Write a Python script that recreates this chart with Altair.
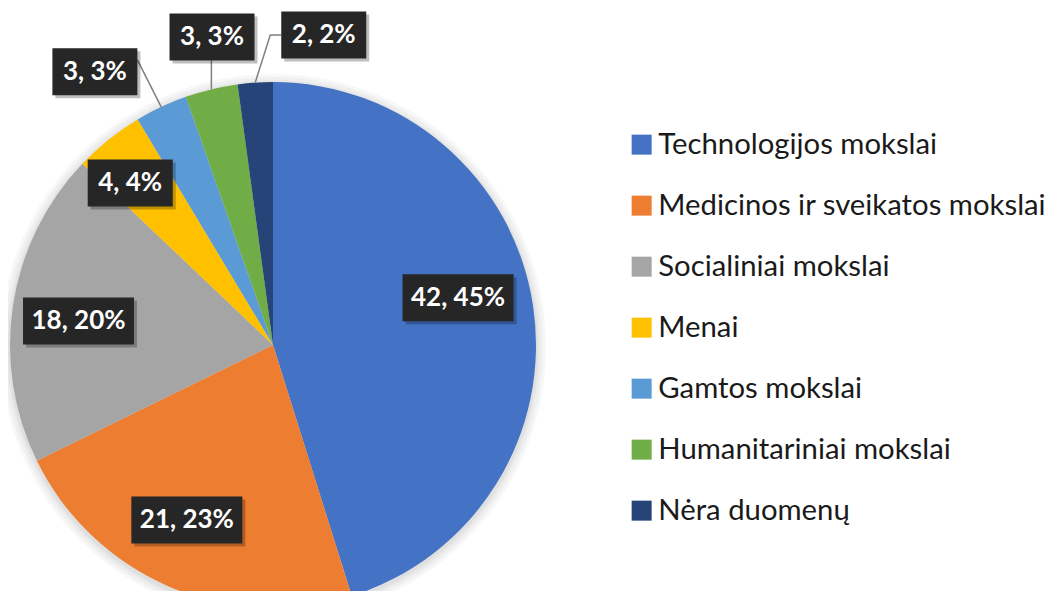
import math
import altair as alt
import pandas as pd

# ---- data ----
categories = ["Technologijos mokslai", "Medicinos ir sveikatos mokslai", "Socialiniai mokslai",
              "Menai", "Gamtos mokslai", "Humanitariniai mokslai", "Nėra duomenų"]
values = [42, 21, 18, 4, 3, 3, 2]
label_texts = ["42, 45%", "21, 23%", "18, 20%", "4, 4%", "3, 3%", "3, 3%", "2, 2%"]
colors = ["#4472C4", "#ED7D31", "#A5A5A5", "#FFC000", "#5B9BD5", "#70AD47", "#264478"]

# ---- layout (pixels) ----
W, H = 1043, 583
CX, CY = 265, 337          # pie centre inside the view
R = 263
# label placement: polar angle (deg, clockwise from 12 o'clock) and distance (fraction of R)
label_angle = [75.7, 206.2, 277.0, 318.6, 326.9, 348.8, 9.3]
label_dist = [0.726, 0.742, 0.745, 0.821, 1.24, 1.194, 1.194]
BOX_H = 47

total = sum(values)
cum = 0
mids = []
for v in values:
    mids.append((cum + v / 2) / total * 360)
    cum += v

pie_df = pd.DataFrame({"category": categories, "value": values, "idx": list(range(len(values)))})

rows = []
for i, t in enumerate(label_texts):
    a = math.radians(label_angle[i])
    d = label_dist[i] * R
    x, y = d * math.sin(a), d * math.cos(a)
    w = 13 * len(t) + 20
    rows.append({"text": t, "x": x, "y": y, "x1": x - w / 2, "x2": x + w / 2,
                 "y1": y - BOX_H / 2, "y2": y + BOX_H / 2})
lab_df = pd.DataFrame(rows)


def arc_pt(i):
    a = math.radians(mids[i])
    return R * math.sin(a), R * math.cos(a)


lead = []
r4 = rows[4]
ex, ey = arc_pt(4)
lead += [{"id": 4, "o": 0, "x": r4["x2"], "y": r4["y"] + 12}, {"id": 4, "o": 1, "x": ex, "y": ey}]
r5 = rows[5]
ex, ey = arc_pt(5)
lead += [{"id": 5, "o": 0, "x": ex, "y": r5["y1"]}, {"id": 5, "o": 1, "x": ex, "y": ey}]
r6 = rows[6]
ex, ey = arc_pt(6)
lead += [{"id": 6, "o": 0, "x": r6["x1"], "y": r6["y"]},
         {"id": 6, "o": 1, "x": r6["x1"] - 11, "y": r6["y"]},
         {"id": 6, "o": 2, "x": ex, "y": ey}]
lead_df = pd.DataFrame(lead)

xs = alt.Scale(domain=[-CX, W - CX], nice=False, zero=False)
ys = alt.Scale(domain=[CY - H, CY], nice=False, zero=False)

one = pd.DataFrame({"k": [0]})
shadows = [
    alt.Chart(one).mark_arc(color="#000000", opacity=0.03, theta=0, theta2=2 * math.pi,
                            outerRadius=R + extra).encode(x=alt.value(CX), y=alt.value(CY + 2))
    for extra in (10, 7, 4, 2)
]

pie = alt.Chart(pie_df).mark_arc().encode(
    theta=alt.Theta("value:Q", stack=True),
    order=alt.Order("idx:Q", sort="ascending"),
    color=alt.Color("category:N", scale=alt.Scale(domain=categories, range=colors),
                    legend=alt.Legend(orient="none", legendX=619, legendY=122, title=None,
                                      symbolType="square", symbolSize=400, symbolStrokeWidth=0,
                                      labelFontSize=29.3, labelFont="Lato", labelColor="#1a1a1a",
                                      rowPadding=31, labelOffset=2, labelLimit=600, padding=0)),
    x=alt.value(CX), y=alt.value(CY),
    radius=alt.value(R),
)

lines = alt.Chart(lead_df).mark_line(color="#7f7f7f", strokeWidth=1.5).encode(
    x=alt.X("x:Q", scale=xs, axis=None), y=alt.Y("y:Q", scale=ys, axis=None),
    detail="id:N", order="o:Q"
)

box_shadow = alt.Chart(lab_df).mark_rect(color="#000000", opacity=0.25, xOffset=3, yOffset=3,
                                         x2Offset=3, y2Offset=3).encode(
    x=alt.X("x1:Q", scale=xs, axis=None), x2="x2:Q",
    y=alt.Y("y1:Q", scale=ys, axis=None), y2="y2:Q"
)
box = alt.Chart(lab_df).mark_rect(color="#262626").encode(
    x=alt.X("x1:Q", scale=xs, axis=None), x2="x2:Q",
    y=alt.Y("y1:Q", scale=ys, axis=None), y2="y2:Q"
)
text = alt.Chart(lab_df).mark_text(color="white", font="Lato", fontWeight="bold", fontSize=26,
                                   align="center", baseline="middle").encode(
    x=alt.X("x:Q", scale=xs, axis=None), y=alt.Y("y:Q", scale=ys, axis=None), text="text:N"
)

chart = alt.layer(*shadows, pie, lines, box_shadow, box, text).properties(
    width=W, height=H, padding=0, autosize=alt.AutoSizeParams(type="none"), background="white"
).configure_view(stroke=None)

chart.save("out.html", embed_options={"renderer": "svg", "actions": False})
